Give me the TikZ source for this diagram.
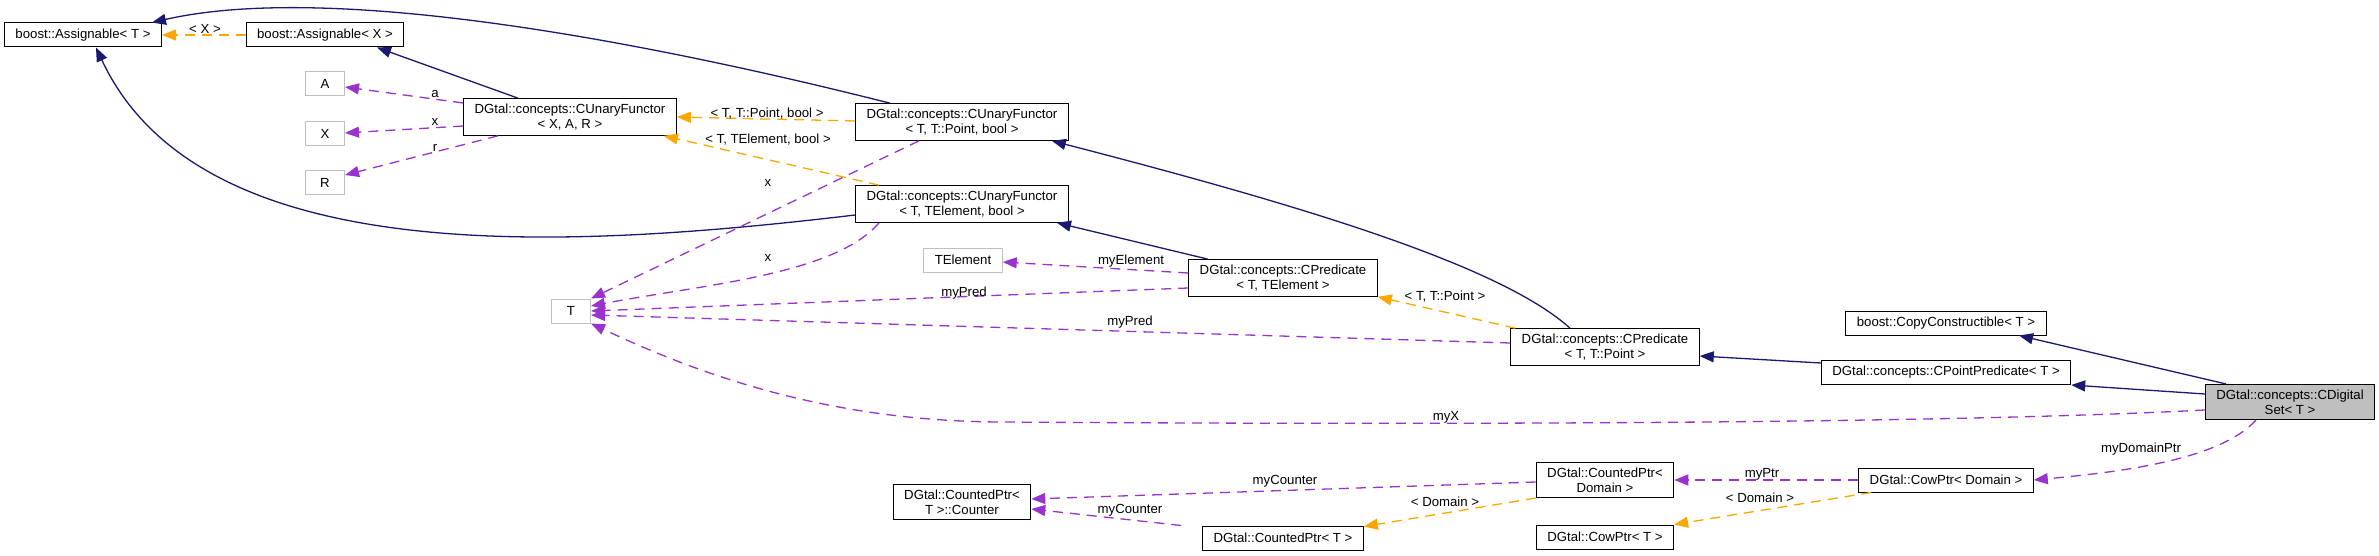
\documentclass[tikz,border=0pt]{standalone}
\usepackage{fontspec}
\setmainfont{Liberation Sans}
\usepackage{tikz}
\usetikzlibrary{arrows.meta,calc}
\usepackage{xcolor}
\definecolor{inhNavy}{HTML}{191970}
\definecolor{useViolet}{HTML}{9A32CD}
\definecolor{tplOrange}{HTML}{FFA500}
\definecolor{undocGray}{HTML}{BFBFBF}

\begin{document}
\begin{tikzpicture}[
    x=0.5pt, y=-0.5pt,
    cls/.style={rectangle, draw=black, fill=white, line width=0.5pt,
                inner xsep=5.5pt, inner ysep=2.6pt, minimum height=12pt,
                align=center, font=\fontsize{6.6}{7.5}\selectfont},
    undoc/.style={cls, draw=undocGray, minimum width=19.5pt},
    lbl/.style={inner sep=0pt, font=\fontsize{6.6}{7.5}\selectfont},
    inherit/.style={draw=inhNavy, line width=0.65pt,
                    -{Triangle[length=7pt, width=5.5pt]}},
    usage/.style={draw=useViolet, line width=0.65pt,
                  dash pattern=on 5pt off 3.5pt,
                  -{Triangle[length=7pt, width=5.5pt]}},
    tmpl/.style={draw=tplOrange, line width=0.65pt,
                 dash pattern=on 5pt off 3.5pt,
                 -{Triangle[length=7pt, width=5.5pt]}},
]
    \useasboundingbox (0,0) rectangle (2379,556);

    \node[cls] (asgT) at (83,35) {boost::Assignable< T >};
    \node[cls] (asgX) at (325,35) {boost::Assignable< X >};
    \node[undoc] (nA) at (325,84) {A};
    \node[undoc] (nX) at (325,134) {X};
    \node[undoc] (nR) at (325,183) {R};
    \node[cls] (cufXAR) at (570,117) {DGtal::concepts::CUnaryFunctor\\< X, A, R >};
    \node[cls] (cufTP) at (962,122) {DGtal::concepts::CUnaryFunctor\\< T, T::Point, bool >};
    \node[cls] (cufTE) at (962,204) {DGtal::concepts::CUnaryFunctor\\< T, TElement, bool >};
    \node[undoc] (nT) at (571,311) {T};
    \node[undoc] (nTElem) at (963,260) {TElement};
    \node[cls] (cpredTE) at (1283,278) {DGtal::concepts::CPredicate\\< T, TElement >};
    \node[cls] (cpredTP) at (1605,347) {DGtal::concepts::CPredicate\\< T, T::Point >};
    \node[cls] (copyC) at (1946,323) {boost::CopyConstructible< T >};
    \node[cls] (cpointP) at (1946,372) {DGtal::concepts::CPointPredicate< T >};
    \node[cls, fill=undocGray] (cdset) at (2290,402) {DGtal::concepts::CDigital\\Set< T >};
    \node[cls] (cptrDom) at (1605,480) {DGtal::CountedPtr<\\Domain >};
    \node[cls] (cowDom) at (1946,480) {DGtal::CowPtr< Domain >};
    \node[cls] (counter) at (962,502) {DGtal::CountedPtr<\\T >::Counter};
    \node[cls] (cptrT) at (1283,538) {DGtal::CountedPtr< T >};
    \node[cls] (cowT) at (1605,537) {DGtal::CowPtr< T >};

    \draw[tmpl] (asgX.west) -- (asgT.east);
    \draw[inherit] ($(cufXAR.north)+(-52,0)$) -- ($(asgX.south)+(52,0)$);
    \draw[usage] ($(cufXAR.west)+(0,-14)$) -- ($(nA.east)+(0,3)$);
    \draw[usage] ($(cufXAR.west)+(0,9)$) -- ($(nX.east)+(0,-1)$);
    \draw[usage] ($(cufXAR.south)+(-72,0)$) -- ($(nR.east)+(0,-8)$);
    \draw[tmpl] ($(cufTP.west)+(0,-1)$) -- (cufXAR.east);
    \draw[tmpl] ($(cufTE.north)+(-83,0)$) -- ($(cufXAR.south east)+(-13,0)$);
    \draw[inherit] ($(cufTP.north)+(-72,0)$) .. controls (640,40) and (330,-18)
        .. ($(asgT.north east)+(-10,0)$);
    \draw[inherit] ($(cufTE.west)+(0,11)$) .. controls (560,250) and (200,270)
        .. ($(asgT.south)+(13,0)$);
    \draw[usage] ($(cufTP.south)+(-43,0)$) -- (nT.north east);
    \draw[usage] ($(cufTE.south)+(-83,0)$) .. controls (835,275) and (700,285)
        .. ($(nT.east)+(0,-5)$);
    \draw[inherit] ($(cpredTE.north)+(-75,0)$) -- ($(cufTE.south)+(95,0)$);
    \draw[usage] ($(cpredTE.west)+(0,-5)$) -- ($(nTElem.east)+(0,2)$);
    \draw[usage] ($(cpredTE.west)+(0,10)$) -- (nT.east);
    \draw[inherit] ($(cpredTP.north)+(-35,0)$) .. controls (1500,265) and (1300,205)
        .. ($(cufTP.south east)+(-17,0)$);
    \draw[tmpl] ($(cpredTP.north west)+(5,0)$) -- (cpredTE.south east);
    \draw[usage] ($(cpredTP.west)+(0,-4)$) -- ($(nT.east)+(0,4)$);
    \draw[inherit] ($(cpointP.west)+(0,-9)$) -- ($(cpredTP.east)+(0,9)$);
    \draw[inherit] ($(cdset.west)+(0,-8)$) -- ($(cpointP.east)+(0,13)$);
    \draw[inherit] ($(cdset.north)+(-64,0)$) -- ($(copyC.south)+(73,0)$);
    \draw[usage] ($(cdset.west)+(0,8)$) .. controls (1900,426) and (1300,424) .. (1000,422)
        .. controls (820,421) and (690,370) .. (nT.south east);
    \draw[usage] ($(cdset.south)+(-34,0)$) .. controls (2220,460) and (2120,472) .. (cowDom.east);
    \draw[usage] (cowDom.west) -- (cptrDom.east);
    \draw[tmpl] ($(cowDom.south west)+(13,0)$) -- (cowT.north east);
    \draw[usage] ($(cptrDom.west)+(0,2)$) -- ($(counter.east)+(0,-3)$);
    \draw[tmpl] (cptrDom.south west) -- ($(cptrT.north east)+(0,1)$);
    \draw[usage] ($(cptrT.north west)+(-21,0)$) -- ($(counter.east)+(0,7)$);

    \node[lbl] (lX) at (205,29) {< X >};
    \node[lbl] (la) at (435,94) {a};
    \node[lbl] (lx1) at (435,122) {x};
    \node[lbl] (lr) at (435,148) {r};
    \node[lbl] (lTP) at (767,114) {< T, T::Point, bool >};
    \node[lbl] (lTE) at (768,140) {< T, TElement, bool >};
    \node[lbl] (lx2) at (768,183) {x};
    \node[lbl] (lx3) at (768,258) {x};
    \node[lbl] (lElem) at (1131,261) {myElement};
    \node[lbl] (lPred1) at (964,293) {myPred};
    \node[lbl] (lPred2) at (1130,322) {myPred};
    \node[lbl] (lTPt) at (1445,297) {< T, T::Point >};
    \node[lbl] (lmyX) at (1446,417) {myX};
    \node[lbl] (lDomPtr) at (2141,449) {myDomainPtr};
    \node[lbl] (lPtr) at (1762,474) {myPtr};
    \node[lbl] (lDom1) at (1760,498) {< Domain >};
    \node[lbl] (lCnt1) at (1285,481) {myCounter};
    \node[lbl] (lDom2) at (1445,502) {< Domain >};
    \node[lbl] (lCnt2) at (1130,510) {myCounter};
\end{tikzpicture}
\end{document}
